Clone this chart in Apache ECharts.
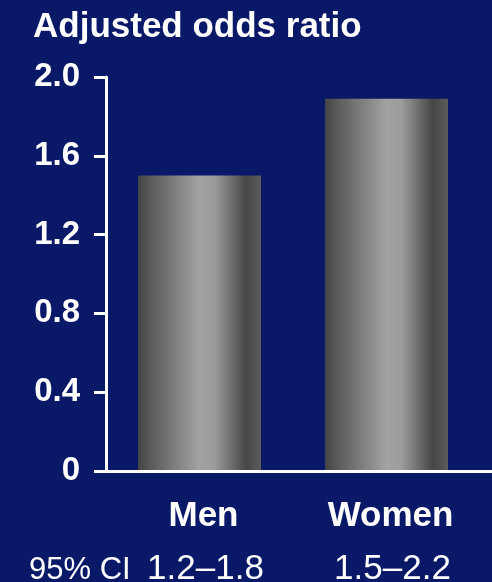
<!DOCTYPE html>
<html><head><meta charset="utf-8">
<script src="https://cdn.jsdelivr.net/npm/echarts@6/dist/echarts.min.js"></script>
<style>html,body{margin:0;padding:0;background:#0a1868;}#c{width:492px;height:582px;}</style>
</head><body><div id="c"></div>
<script>
var categories = ['Men', 'Women'];
var oddsRatio = [1.5, 1.89];
var ciLabels = ['1.2\u20131.8', '1.5\u20132.2'];
var ciTitle = '95% CI';
var yTicks = [0, 0.4, 0.8, 1.2, 1.6, 2.0];

var chart = echarts.init(document.getElementById('c'));
var font = '"Liberation Sans", Arial, Helvetica, sans-serif';
var barGrad = new echarts.graphic.LinearGradient(0, 0, 1, 0, [
  {offset: 0, color: '#444444'},
  {offset: 0.1, color: '#5a5a5a'},
  {offset: 0.5, color: '#a2a2a2'},
  {offset: 0.62, color: '#9c9c9c'},
  {offset: 0.88, color: '#464646'},
  {offset: 1, color: '#5c5c5c'}
]);
chart.setOption({
  backgroundColor: '#0a1868',
  animation: false,
  textStyle: {fontFamily: font},
  title: {
    text: 'Adjusted odds ratio', left: 28, top: 5,
    textStyle: {color: '#ffffff', fontSize: 35, fontWeight: 'bold', fontFamily: font}
  },
  grid: {left: 106, right: 12, top: 77, bottom: 111, outerBoundsMode: 'none', containLabel: false},
  xAxis: {
    type: 'category', data: categories,
    axisLine: {show: false},
    axisTick: {show: false},
    axisLabel: {
      margin: 19,
      formatter: function (v, i) { return '{b|' + v + '}\n{ci|' + ciLabels[i] + '}'; },
      rich: {
        b: {color: '#ffffff', fontSize: 35, fontWeight: 'bold', fontFamily: font, lineHeight: 53, padding: [0, 0, 0, 8]},
        ci: {color: '#ffffff', fontSize: 35, fontFamily: font, lineHeight: 53, padding: [0, 0, 0, 12]}
      }
    }
  },
  yAxis: {
    type: 'value', min: 0, max: 2.0, interval: 0.4,
    splitLine: {show: false},
    axisLine: {show: true, lineStyle: {color: '#ffffff', width: 3}},
    axisTick: {show: true, length: 12, lineStyle: {color: '#ffffff', width: 3}},
    axisLabel: {
      color: '#ffffff', fontSize: 33, fontWeight: 'bold', fontFamily: font, margin: 26,
      formatter: function (v) { return v === 0 ? '0' : v.toFixed(1); }
    }
  },
  series: [{
    type: 'bar', data: oddsRatio, barWidth: 123,
    itemStyle: {color: barGrad}
  }]
});
var p0 = chart.convertToPixel({gridIndex: 0}, [0, 0]);
var yLine = Math.round(p0[1]) + 0.5;
var xStart = chart.getModel().getComponent('grid').coordinateSystem.getRect().x;
chart.setOption({
  graphic: [
    {type: 'text', left: 29, top: 555, style: {text: ciTitle, fill: '#ffffff', fontSize: 31, fontFamily: font}},
    {type: 'line', z: 10, shape: {x1: xStart - 1.5, y1: yLine, x2: 492, y2: yLine}, style: {stroke: '#ffffff', lineWidth: 3}}
  ]
});
</script></body></html>
